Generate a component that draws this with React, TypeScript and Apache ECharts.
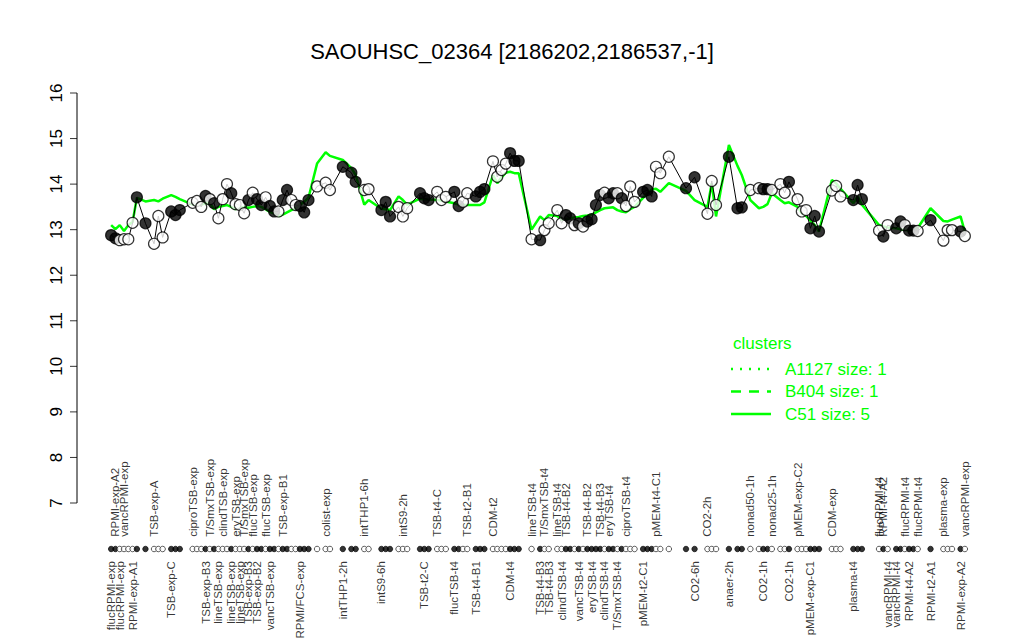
import React, { useEffect, useRef } from "react";
import * as echarts from "echarts";

const title = "SAOUHSC_02364 [2186202,2186537,-1]";

// position of each condition along the x axis (conditions are grouped, with gaps between groups)
const slots = [
  1, 2, 3, 4, 5, 6, 7, 9, 11, 12,
  13, 15, 16, 17, 20, 21, 22, 23, 24, 25,
  26, 27, 28, 29, 30, 31, 32, 33, 34, 35,
  36, 37, 38, 39, 40, 41, 42, 43, 44, 45,
  46, 47, 49, 51, 52, 55, 57, 58, 60, 61,
  64, 65, 66, 68, 69, 70, 73, 74, 75, 77,
  78, 79, 81, 82, 83, 84, 86, 87, 88, 90,
  91, 92, 93, 94, 95, 96, 99, 101, 102, 103,
  105, 106, 107, 108, 109, 110, 111, 112, 113, 114,
  115, 116, 117, 118, 119, 120, 121, 122, 123, 125,
  126, 127, 128, 129, 131, 135, 137, 140, 141, 142,
  145, 147, 148, 150, 152, 153, 154, 155, 157, 158,
  159, 161, 162, 163, 164, 165, 166, 169, 170, 171,
  174, 175, 176, 180, 181, 182, 184, 185, 186, 187,
  188, 189, 192, 195, 196, 197, 199, 200,
];

const values = [
  12.88, 12.81, 12.77, 12.79, 12.79, 13.15, 13.71, 13.14, 12.69, 13.30,
  12.83, 13.40, 13.32, 13.43, 13.59, 13.63, 13.50, 13.74, 13.67, 13.58,
  13.25, 13.67, 14.00, 13.80, 13.56, 13.54, 13.36, 13.65, 13.81, 13.67,
  13.54, 13.71, 13.52, 13.40, 13.40, 13.65, 13.87, 13.65, 13.54, 13.52,
  13.38, 13.65, 13.95, 14.03, 13.87, 14.38, 14.25, 14.05, 13.87, 13.89,
  13.43, 13.61, 13.29, 13.50, 13.29, 13.47, 13.80, 13.69, 13.65, 13.83,
  13.65, 13.72, 13.83, 13.52, 13.61, 13.80, 13.73, 13.83, 13.89, 14.50,
  14.16, 14.31, 14.45, 14.68, 14.51, 14.51, 12.79, 12.77, 12.99, 13.14,
  13.43, 13.14, 13.32, 13.25, 13.10, 13.14, 13.07, 13.18, 13.23, 13.54,
  13.76, 13.81, 13.69, 13.80, 13.80, 13.69, 13.52, 13.95, 13.61, 13.83,
  13.87, 13.73, 14.38, 14.24, 14.60, 13.91, 14.15, 13.35, 14.07, 13.54,
  14.60, 13.47, 13.49, 13.87, 13.91, 13.89, 13.89, 13.87, 14.00, 13.81,
  14.05, 13.67, 13.40, 13.43, 13.03, 13.30, 12.96, 13.86, 13.96, 13.73,
  13.65, 13.98, 13.67, 12.98, 12.85, 13.10, 13.03, 13.18, 13.10, 12.98,
  12.98, 12.97, 13.21, 12.76, 12.99, 12.99, 12.96, 12.86,
];

const filled = [
  1, 1, 0, 0, 0, 0, 1, 1, 0, 0,
  0, 1, 1, 1, 0, 0, 0, 1, 0, 1,
  0, 0, 0, 1, 0, 0, 0, 1, 0, 1,
  1, 0, 1, 1, 0, 1, 1, 0, 0, 1,
  1, 1, 0, 0, 0, 1, 1, 1, 0, 0,
  1, 1, 1, 0, 0, 0, 1, 1, 1, 0,
  0, 0, 1, 1, 0, 0, 1, 1, 1, 0,
  0, 0, 0, 1, 1, 1, 0, 1, 0, 0,
  0, 0, 1, 1, 0, 1, 0, 1, 1, 1,
  1, 0, 1, 1, 0, 1, 0, 0, 0, 1,
  1, 1, 0, 0, 0, 1, 1, 0, 0, 0,
  1, 1, 1, 0, 0, 1, 1, 0, 0, 0,
  1, 0, 0, 0, 1, 1, 1, 0, 0, 0,
  1, 1, 1, 0, 1, 0, 1, 1, 0, 1,
  1, 0, 1, 0, 0, 0, 1, 0,
];

const clusterC51 = [
  13.10, 13.01, 13.10, 12.97, 13.10, 13.17, 13.70, 13.62, 13.65, 13.62,
  13.68, 13.76, 13.72, 13.67, 13.55, 13.54, 13.55, 13.58, 13.58, 13.45,
  13.50, 13.52, 13.54, 13.50, 13.45, 13.48, 13.50, 13.48, 13.50, 13.52,
  13.50, 13.45, 13.39, 13.35, 13.30, 13.33, 13.38, 13.43, 13.47, 13.55,
  13.61, 13.70, 14.45, 14.70, 14.62, 14.53, 14.35, 14.20, 13.55, 13.65,
  13.46, 13.45, 13.43, 13.73, 13.65, 13.55, 13.68, 13.67, 13.66, 13.65,
  13.64, 13.62, 13.58, 13.55, 13.54, 13.54, 13.54, 13.54, 13.60, 14.20,
  14.02, 14.15, 14.25, 14.27, 14.24, 14.24, 13.00, 13.29, 13.21, 13.32,
  13.30, 13.22, 13.23, 13.25, 13.27, 13.28, 13.30, 13.31, 13.33, 13.38,
  13.43, 13.47, 13.48, 13.49, 13.43, 13.40, 13.38, 13.45, 13.50, 13.70,
  13.80, 13.88, 13.90, 13.83, 14.02, 13.85, 13.65, 13.50, 14.02, 13.29,
  14.86, 14.40, 14.20, 13.65, 13.47, 13.50, 13.56, 13.80, 13.65, 13.58,
  13.60, 13.50, 13.36, 13.30, 13.20, 13.10, 12.96, 14.09, 14.02, 13.90,
  13.58, 13.73, 13.55, 13.10, 13.07, 13.05, 13.03, 13.01, 13.00, 12.98,
  13.00, 13.03, 13.47, 13.19, 13.18, 13.22, 13.29, 12.95,
];

const topLabels: [number, string][] = [
  [2, "RPMI-exp-A2"], [4, "vancRPMI-exp"], [11, "TSB-exp-A"], [20, "ciproTSB-exp"],
  [24, "T/SmxTSB-exp"], [27, "clindTSB-exp"], [30, "eryTSB-exp"], [32, "T/SmxTSB-exp"],
  [34, "flucTSB-exp"], [37, "flucTSB-exp"], [41, "TSB-exp-B1"], [51, "colist-exp"],
  [60, "intTHP1-6h"], [69, "intS9-2h"], [77, "TSB-t4-C"], [84, "TSB-t2-B1"],
  [90, "CDM-t2"], [99, "lineTSB-t4"], [102, "T/SmxTSB-t4"], [105, "lineTSB-t4"],
  [107, "TSB-t4-B2"], [112, "TSB-t4-B2"], [115, "TSB-t4-B3"], [117, "eryTSB-t4"],
  [121, "ciproTSB-t4"], [128, "pMEM-t4-C1"], [140, "CO2-2h"], [150, "nonad50-1h"],
  [155, "nonad25-1h"], [161, "pMEM-exp-C2"], [169, "CDM-exp"], [180, "flucRPMI-t4"],
  [181, "RPMI-t4-A2"], [186, "flucRPMI-t4"], [189, "flucRPMI-t4"], [195, "plasma-exp"],
  [200, "vancRPMI-exp"],
];

const bottomLabels: [number, string][] = [
  [1, "flucRPMI-exp"], [3, "flucRPMI-exp"], [6, "RPMI-exp-A1"], [15, "TSB-exp-C"],
  [23, "TSB-exp-B3"], [26, "lineTSB-exp"], [29, "lineTSB-exp"], [31, "lineTSB-exp"],
  [33, "TSB-exp-B3"], [35, "TSB-exp-B2"], [38, "vancTSB-exp"], [45, "RPMI/FCS-exp"],
  [55, "intTHP1-2h"], [64, "intS9-6h"], [74, "TSB-t2-C"], [81, "flucTSB-t4"],
  [86, "TSB-t4-B1"], [94, "CDM-t4"], [101, "TSB-t4-B3"], [103, "TSB-t4-B3"],
  [106, "clindTSB-t4"], [110, "vancTSB-t4"], [113, "eryTSB-t4"], [116, "clindTSB-t4"],
  [119, "T/SmxTSB-t4"], [125, "pMEM-t2-C1"], [137, "CO2-6h"], [145, "anaer-2h"],
  [153, "CO2-1h"], [159, "CO2-1h"], [164, "pMEM-exp-C1"], [174, "plasma-t4"],
  [182, "vancRPMI-t4"], [184, "vancRPMI-t4"], [187, "RPMI-t4-A2"], [192, "RPMI-t2-A1"],
  [199, "RPMI-exp-A2"],
];

const yTicks = [7, 8, 9, 10, 11, 12, 13, 14, 15, 16];

const legendTitle = "clusters";
const legendEntries: [string, string][] = [
  ["A1127 size: 1", "dotted"],
  ["B404 size: 1", "dashed"],
  ["C51 size: 5", "solid"],
];

const GREEN = "#00ff00";
const FONT = "'Liberation Sans', Arial, Helvetica, sans-serif";

// layout: the plot region (R style) spans x 77..999; the grid is widened 17px to the left
// so that the axis line and ticks are drawn inside it
const PLOT_LEFT = 77;
const PLOT_RIGHT = 999;
const GRID_LEFT = 60;
const GRID_TOP = 93;
const GRID_HEIGHT = 410;

export default function App() {
  const ref = useRef<HTMLDivElement>(null);

  useEffect(() => {
    document.body.style.margin = "0";
    const chart = echarts.init(ref.current!, null, { renderer: "svg" });
    // R-style axis range: data range extended by 4% on each side
    const lo = Math.min(...slots);
    const hi = Math.max(...slots);
    const pad = (hi - lo) * 0.04;
    const axisX = lo - pad;
    const unitsPerPx = (hi - lo + 2 * pad) / (PLOT_RIGHT - PLOT_LEFT);
    const xMin = axisX - (PLOT_LEFT - GRID_LEFT) * unitsPerPx;
    const xMax = hi + pad;
    const yMin = yTicks[0];
    const yMax = yTicks[yTicks.length - 1];

    const labelMap = new Map<number, { text: string; side: string }>();
    topLabels.forEach(([i, t]) => labelMap.set(i, { text: t, side: "top" }));
    bottomLabels.forEach(([i, t]) => labelMap.set(i, { text: t, side: "bottom" }));

    const rugData = slots.map((s, k) => {
      const lab = labelMap.get(s);
      const item: any = {
        value: [s, 0],
        itemStyle: { color: filled[k] ? "#000" : "#fff" },
      };
      if (lab) {
        item.label = {
          show: true,
          formatter: lab.text,
          position: lab.side,
          distance: 9,
          rotate: 90,
          align: lab.side === "top" ? "left" : "right",
          verticalAlign: "middle",
          fontSize: 11.5,
          fontFamily: FONT,
          color: "#000",
        };
      }
      return item;
    });

    const pointData = values.map((v, k) => ({
      value: [slots[k], v],
      itemStyle: { color: filled[k] ? "#000" : "#fff" },
    }));

    const legendGraphics: any[] = [
      {
        type: "text",
        x: 733,
        y: 343,
        style: {
          text: legendTitle,
          fill: GREEN,
          fontSize: 17,
          fontFamily: FONT,
          align: "left",
          verticalAlign: "middle",
        },
      },
    ];
    legendEntries.forEach(([name, kind], j) => {
      const y = 369 + j * 22.5;
      legendGraphics.push({
        type: "line",
        shape: { x1: 731, y1: y, x2: 771, y2: y },
        style: {
          stroke: GREEN,
          lineWidth: 2.5,
          lineDash: kind === "dotted" ? [2, 7] : kind === "dashed" ? [10, 8] : null,
        },
      });
      legendGraphics.push({
        type: "text",
        x: 785,
        y,
        style: {
          text: name,
          fill: GREEN,
          fontSize: 17,
          fontFamily: FONT,
          align: "left",
          verticalAlign: "middle",
        },
      });
    });

    chart.setOption({
      animation: false,
      backgroundColor: "#fff",
      title: {
        text: title,
        left: "center",
        top: 35,
        textStyle: { fontSize: 22, fontWeight: "normal", color: "#000", fontFamily: FONT },
      },
      grid: [
        { left: GRID_LEFT, right: 1024 - PLOT_RIGHT, top: GRID_TOP, height: GRID_HEIGHT },
        { left: GRID_LEFT, right: 1024 - PLOT_RIGHT, top: 544, height: 10 },
      ],
      xAxis: [
        { gridIndex: 0, type: "value", min: xMin, max: xMax, show: false },
        { gridIndex: 1, type: "value", min: xMin, max: xMax, show: false },
      ],
      yAxis: [
        {
          gridIndex: 0,
          type: "value",
          position: "left",
          offset: GRID_LEFT - PLOT_LEFT,
          min: yMin,
          max: yMax,
          interval: 1,
          axisLine: { show: false },
          axisTick: { show: false },
          axisLabel: { show: true, rotate: 90, fontSize: 17, color: "#000", fontFamily: FONT, margin: 12 },
          splitLine: { show: false },
        },
        { gridIndex: 1, type: "value", min: -1, max: 1, show: false },
      ],
      graphic: legendGraphics,
      series: [
        // y axis line at the left edge of the R plot region (inside the widened grid)
        {
          type: "line",
          xAxisIndex: 0,
          yAxisIndex: 0,
          data: [
            [axisX, yMin],
            [axisX, yMax],
          ],
          symbol: "none",
          silent: true,
          lineStyle: { color: "#000", width: 1 },
          z: 5,
        },
        // y axis ticks, 7px long to the left of the axis line
        {
          type: "scatter",
          xAxisIndex: 0,
          yAxisIndex: 0,
          data: yTicks.map((v) => [axisX, v]),
          symbol: "rect",
          symbolSize: [7, 1],
          symbolOffset: [-3.5, 0],
          silent: true,
          itemStyle: { color: "#000" },
          z: 5,
        },
        {
          type: "line",
          xAxisIndex: 0,
          yAxisIndex: 0,
          data: clusterC51.map((v, k) => [slots[k], v]),
          symbol: "none",
          lineStyle: { color: GREEN, width: 2.5 },
          z: 2,
        },
        {
          type: "line",
          xAxisIndex: 0,
          yAxisIndex: 0,
          data: values.map((v, k) => [slots[k], v]),
          symbol: "none",
          lineStyle: { color: "#000", width: 1 },
          z: 3,
        },
        {
          type: "scatter",
          xAxisIndex: 0,
          yAxisIndex: 0,
          data: pointData,
          symbol: "circle",
          symbolSize: 11,
          itemStyle: { borderColor: "#000", borderWidth: 1.2 },
          z: 4,
        },
        {
          type: "scatter",
          xAxisIndex: 1,
          yAxisIndex: 1,
          data: rugData,
          symbol: "circle",
          symbolSize: 5.5,
          itemStyle: { borderColor: "#000", borderWidth: 0.8 },
          z: 4,
        },
      ],
    });

    return () => chart.dispose();
  }, []);

  return <div ref={ref} style={{ width: 1024, height: 640 }} />;
}
